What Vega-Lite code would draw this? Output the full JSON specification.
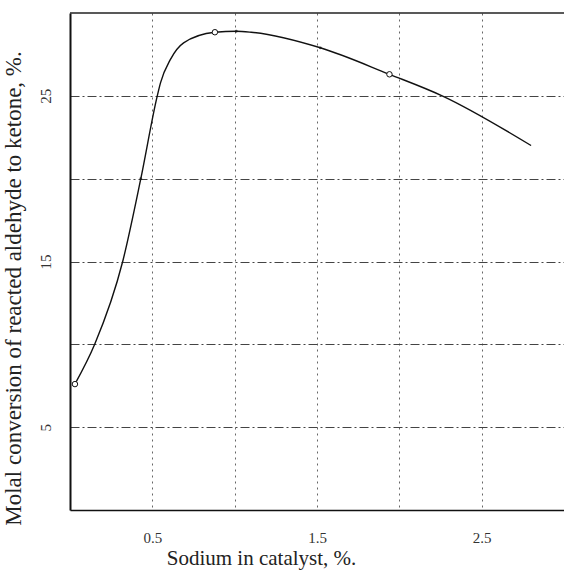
{
  "$schema": "https://vega.github.io/schema/vega-lite/v6.json",
  "width": 494,
  "height": 497,
  "autosize": {"type": "none"},
  "padding": {"left": 70, "top": 13, "right": 0, "bottom": 61},
  "background": "white",
  "config": {"font": "Liberation Serif", "view": {"stroke": null}},
  "datasets": {
    "curve": [
      {"sodium": 0.03, "conversion": 7.6},
      {"sodium": 0.15, "conversion": 10.0},
      {"sodium": 0.32, "conversion": 15.0},
      {"sodium": 0.43, "conversion": 20.0},
      {"sodium": 0.53, "conversion": 25.0},
      {"sodium": 0.55, "conversion": 25.8},
      {"sodium": 0.61, "conversion": 27.2},
      {"sodium": 0.69, "conversion": 28.2},
      {"sodium": 0.88, "conversion": 28.84},
      {"sodium": 1.01, "conversion": 28.9},
      {"sodium": 1.10, "conversion": 28.84},
      {"sodium": 1.52, "conversion": 27.9},
      {"sodium": 1.94, "conversion": 26.3},
      {"sodium": 2.26, "conversion": 25.0},
      {"sodium": 2.80, "conversion": 22.0}
    ],
    "circles": [
      {"sodium": 0.03, "conversion": 7.6},
      {"sodium": 0.88, "conversion": 28.84},
      {"sodium": 1.94, "conversion": 26.3}
    ],
    "dots": [
      {"sodium": 0.43, "conversion": 20.0},
      {"sodium": 1.01, "conversion": 28.9},
      {"sodium": 1.52, "conversion": 27.9}
    ],
    "top": [{"level": 30}]
  },
  "layer": [
    {
      "data": {"name": "top"},
      "mark": {"type": "rule", "color": "#222", "strokeWidth": 1.6},
      "encoding": {"y": {"field": "level", "type": "quantitative"}}
    },
    {
      "data": {"name": "curve"},
      "mark": {"type": "line", "interpolate": "monotone", "color": "#111", "strokeWidth": 1.4},
      "encoding": {
        "x": {
          "field": "sodium", "type": "quantitative",
          "scale": {"domain": [0, 3], "nice": false, "zero": false},
          "title": "Sodium in catalyst, %.",
          "axis": {
            "values": [0.5, 1, 1.5, 2, 2.5],
            "labelExpr": "datum.value == 1 || datum.value == 2 ? '' : format(datum.value, '.1f')",
            "ticks": false, "tickSize": 0,
            "labelPadding": 20, "labelFontSize": 15, "labelColor": "#333",
            "domainColor": "#111", "domainWidth": 1.6,
            "grid": true, "gridColor": "#666", "gridDash": [2, 4], "gridWidth": 1,
            "titleFontSize": 21, "titleFontWeight": "normal", "titleColor": "#222",
            "titleX": 191, "titleY": 48, "titleBaseline": "middle", "titleAlign": "center"
          }
        },
        "y": {
          "field": "conversion", "type": "quantitative",
          "scale": {"domain": [0, 30], "nice": false},
          "title": "Molal conversion of reacted aldehyde to ketone, %.",
          "axis": {
            "values": [5, 10, 15, 20, 25],
            "labelExpr": "datum.value == 10 || datum.value == 20 ? '' : format(datum.value, 'd')",
            "ticks": false, "tickSize": 0,
            "labelAngle": 270, "labelAlign": "center", "labelBaseline": "bottom",
            "labelPadding": 17, "labelFontSize": 15, "labelColor": "#333",
            "domainColor": "#111", "domainWidth": 2,
            "grid": true, "gridColor": "#444", "gridDash": [9, 3, 2, 3], "gridWidth": 1,
            "titleFontSize": 23, "titleFontWeight": "normal", "titleColor": "#222",
            "titleX": -57, "titleY": 275, "titleBaseline": "middle", "titleAlign": "center"
          }
        }
      }
    },
    {
      "data": {"name": "circles"},
      "mark": {"type": "point", "shape": "circle", "filled": false, "color": "#111", "size": 30, "strokeWidth": 1, "fill": "white", "fillOpacity": 1},
      "encoding": {
        "x": {"field": "sodium", "type": "quantitative"},
        "y": {"field": "conversion", "type": "quantitative"}
      }
    },
    {
      "data": {"name": "dots"},
      "mark": {"type": "circle", "color": "#111", "size": 8},
      "encoding": {
        "x": {"field": "sodium", "type": "quantitative"},
        "y": {"field": "conversion", "type": "quantitative"}
      }
    }
  ]
}
